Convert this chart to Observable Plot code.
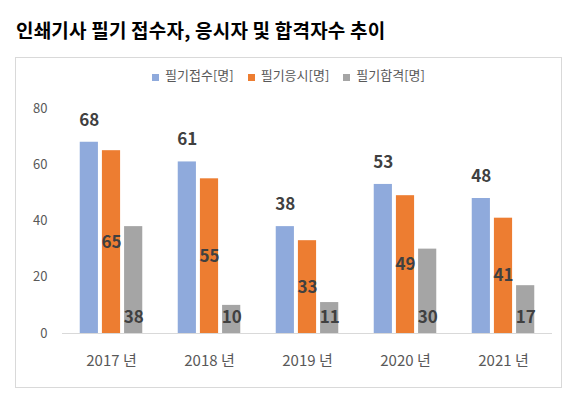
<!DOCTYPE html>
<html><head><meta charset="utf-8">
<script src="https://cdn.jsdelivr.net/npm/d3@7"></script>
<script src="https://cdn.jsdelivr.net/npm/@observablehq/plot@0.6"></script>
<style>
body{margin:0;background:#fff;font-family:"Noto Sans CJK KR","Noto Sans",sans-serif;width:569px;height:397px;position:relative;overflow:hidden}
#title{position:absolute;left:16px;top:17px;font-size:19px;font-weight:bold;color:#000;line-height:26px;white-space:nowrap;letter-spacing:0.2px}
#box{position:absolute;left:15px;top:57px;width:545px;height:329px;border:1px solid #d9d9d9;box-sizing:content-box}
#legend{position:absolute;left:0;top:8px;width:100%;display:flex;justify-content:center;gap:14px;font-size:13px;color:#595959;line-height:18px}
#legend span.sw{display:inline-block;width:7px;height:7px;margin-right:6px;vertical-align:-1px}
#chart{position:absolute;left:0;top:0}
</style></head>
<body>
<div id="title">인쇄기사 필기 접수자, 응시자 및 합격자수 추이</div>
<div id="box"><div id="chart"></div><div id="legend"></div></div>
<script>
const years = ["2017", "2018", "2019", "2020", "2021"];
const seriesNames = ["필기접수[명]", "필기응시[명]", "필기합격[명]"];
const applied = [68, 61, 38, 53, 48];
const examined = [65, 55, 33, 49, 41];
const passed = [38, 10, 11, 30, 17];
const colors = ["#8FAADC", "#ED7D31", "#A5A5A5"];
const yTicks = [0, 20, 40, 60, 80];

const all = [applied, examined, passed];
const data = [];
years.forEach((y, i) => seriesNames.forEach((s, j) => data.push({year: y, series: s, value: all[j][i]})));

const lg = document.getElementById("legend");
seriesNames.forEach((s, j) => {
  const d = document.createElement("div");
  d.innerHTML = `<span class="sw" style="background:${colors[j]}"></span>${s}`;
  lg.appendChild(d);
});

const lbl = {fontSize: 17, fontWeight: "bold", fill: "#404040", fontFamily: "Noto Sans CJK KR, Noto Sans, sans-serif"};
const plot = Plot.plot({
  width: 545, height: 329,
  marginTop: 50, marginBottom: 54, marginLeft: 44, marginRight: 7,
  style: {fontFamily: "Noto Sans CJK KR, Noto Sans, sans-serif", background: "transparent"},
  fx: {domain: years, padding: 0, label: null, axis: null},
  x: {domain: seriesNames, paddingInner: 0.18, paddingOuter: 0.8, axis: null, round: false},
  y: {domain: [0, 80], ticks: yTicks, label: null, axis: null},
  color: {domain: seriesNames, range: colors},
  marks: [
    Plot.axisY({ticks: yTicks, tickSize: 0, tickPadding: 15, fontSize: 13, fill: "#595959", label: null}),
    Plot.axisFx({anchor: "bottom", tickSize: 0, tickPadding: 22, fontSize: 15, fill: "#595959", label: null, tickFormat: d => d + " 년"}),
    Plot.barY(data, {fx: "year", x: "series", y: "value", fill: "series"}),
    Plot.ruleY([0], {stroke: "#d9d9d9", strokeWidth: 1}),
    Plot.text(data.filter(d => d.series === seriesNames[0]), {fx: "year", x: "series", y: "value", text: "value", dy: -22, ...lbl}),
    Plot.text(data.filter(d => d.series === seriesNames[1]), {fx: "year", x: "series", y: d => d.value / 2, text: "value", ...lbl}),
    Plot.text(data.filter(d => d.series === seriesNames[2]), {fx: "year", x: "series", y: 0, text: "value", dy: -16, ...lbl})
  ]
});
document.getElementById("chart").appendChild(plot);
</script>
</body></html>
